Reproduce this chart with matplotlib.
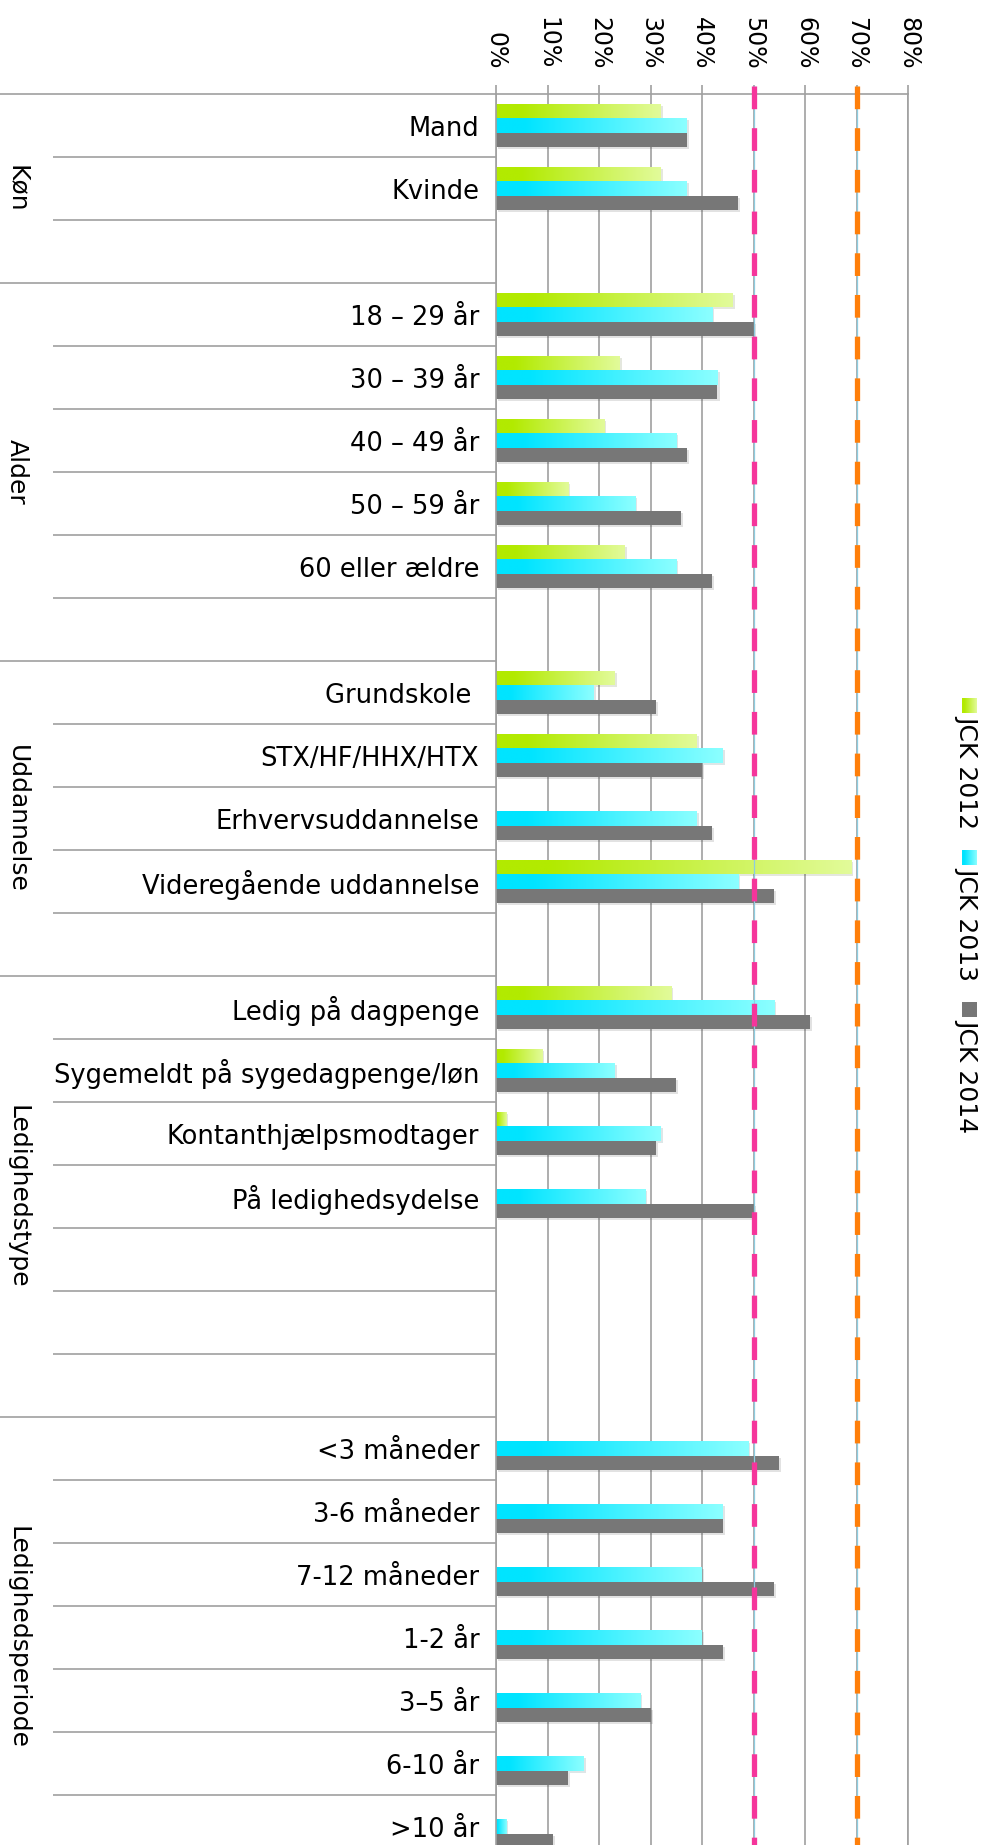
import numpy as np
import matplotlib
matplotlib.use('Agg')
import matplotlib.pyplot as plt
import matplotlib.patheffects as pe
from matplotlib.colors import to_rgb

nan = np.nan

groups = ['Køn', 'Alder', 'Uddannelse', 'Ledighedstype', 'Ledighedsperiode']
group_sizes = [3, 6, 5, 7, 7]
categories = ['Mand', 'Kvinde', '',
              '18 – 29 år', '30 – 39 år', '40 – 49 år', '50 – 59 år', '60 eller ældre', '',
              'Grundskole ', 'STX/HF/HHX/HTX', 'Erhvervsuddannelse', 'Videregående uddannelse', '',
              'Ledig på dagpenge', 'Sygemeldt på sygedagpenge/løn', 'Kontanthjælpsmodtager',
              'På ledighedsydelse', '', '', '',
              '<3 måneder', '3-6 måneder', '7-12 måneder', '1-2 år', '3–5 år', '6-10 år', '>10 år']

jck2012 = [32, 32, nan, 46, 24, 21, 14, 25, nan, 23, 39, nan, 69, nan,
           34, 9, 2, nan, nan, nan, nan, nan, nan, nan, nan, nan, nan, nan]
jck2013 = [37, 37, nan, 42, 43, 35, 27, 35, nan, 19, 44, 39, 47, nan,
           54, 23, 32, 29, nan, nan, nan, 49, 44, 40, 40, 28, 17, 2]
jck2014 = [37, 47, nan, 50, 43, 37, 36, 42, nan, 31, 40, 42, 54, nan,
           61, 35, 31, 50, nan, nan, nan, 55, 44, 54, 44, 30, 14, 11]
series_names = ['JCK 2012', 'JCK 2013', 'JCK 2014']
xticks = [0, 10, 20, 30, 40, 50, 60, 70, 80]
targets = [50, 70]

# colours: (dark start, light end) for gradient fills
fills = [('#b2ea00', '#e2fb9a'), ('#00e4ff', '#8cffff'), ('#777777', '#777777')]
target_colors = ['#f5359b', '#ff7f0a']
GRID = '#a0a0a0'

W, H = 988, 1845
fig = plt.figure(figsize=(W / 100, H / 100), dpi=100)
ax = fig.add_axes([496 / W, 1 - 1858 / H, 412 / W, 1764 / H])


def gradient(c0, c1, n=256):
    t = np.linspace(0, 1, n)
    s = np.clip((t - 0.15) / 0.85, 0, 1)[:, None]
    a, b = np.array(to_rgb(c0)), np.array(to_rgb(c1))
    return (a + (b - a) * s)[None, :, :]


y = np.arange(len(categories))
bh = 0.227
shadow = [pe.SimplePatchShadow(offset=(1.5, -1.5), alpha=0.13), pe.Normal()]
for k, vals in enumerate([jck2012, jck2013, jck2014]):
    c0, c1 = fills[k]
    bars = ax.barh(y + (k - 1) * bh, vals, height=bh, color=c0, zorder=2,
                   linewidth=0)
    for b in bars:
        b.set_path_effects(shadow)
        w = b.get_width()
        if c0 == c1 or not np.isfinite(w) or w <= 0:
            continue
        x0, y0, h = b.get_x(), b.get_y(), b.get_height()
        im = ax.imshow(gradient(c0, c1), extent=(x0, x0 + w, y0 + h, y0),
                       aspect='auto', zorder=2.1, interpolation='bilinear')
        im.set_clip_path(b)

# target lines
for t, c in zip(targets, target_colors):
    ax.plot([t, t], [1.0045, 0], transform=ax.get_xaxis_transform(),
            color='#8dcde0', lw=0.9, clip_on=False, zorder=5)
    ax.plot([t, t], [1.0045, 0], transform=ax.get_xaxis_transform(),
            color=c, lw=3.8, dashes=(4.3, 3.6), dash_capstyle='butt',
            clip_on=False, zorder=6)

ax.set_xlim(0, 80)
ax.set_ylim(len(categories) - 0.5, -0.5)

ax.set_axisbelow(True)
ax.grid(axis='x', color=GRID, lw=1.2)
ax.grid(axis='y', visible=False)
ax.xaxis.tick_top()
ax.set_xticks(xticks)
ax.set_xticklabels([f'{v}%' for v in xticks])
ax.tick_params(axis='x', top=True, bottom=False, labeltop=True, labelbottom=False,
               direction='out', length=6.5, width=1.2, color=GRID, pad=11,
               labelsize=17, labelrotation=-90)
ax.set_yticks(y)
ax.set_yticklabels(categories)
ax.tick_params(axis='y', length=0, pad=12, labelsize=18.5)
for s in ['left', 'top', 'right']:
    ax.spines[s].set_color(GRID)
    ax.spines[s].set_linewidth(1.2)
ax.spines['bottom'].set_visible(False)

# separator lines on the category side
starts = np.cumsum([0] + group_sizes[:-1])
bounds = np.arange(len(categories) + 1) - 0.5
for i, yb in enumerate(bounds):
    x0 = -1.21 if i in starts else -1.0752
    ax.plot([x0, 0], [yb, yb], transform=ax.get_yaxis_transform(), color=GRID,
            lw=1.2, clip_on=False, solid_capstyle='butt')

# group labels
for name, st, n in zip(groups, starts, group_sizes):
    ax.text((10 - 496) / 412, st + (n - 1) / 2, name,
            transform=ax.get_yaxis_transform(), rotation=-90,
            rotation_mode='anchor', ha='center', va='baseline', fontsize=18)

# legend
for k, name in enumerate(series_names):
    top = 698 + 152 * k
    lax = fig.add_axes([962 / W, 1 - (top + 15) / H, 15 / W, 15 / H])
    lax.imshow(gradient(*fills[k]), aspect='auto', interpolation='bilinear')
    lax.axis('off')
    fig.text(960 / W, 1 - (top + 17) / H, name, rotation=-90,
             rotation_mode='anchor', ha='left', va='baseline', fontsize=18)

fig.savefig('out.png', dpi=100)
